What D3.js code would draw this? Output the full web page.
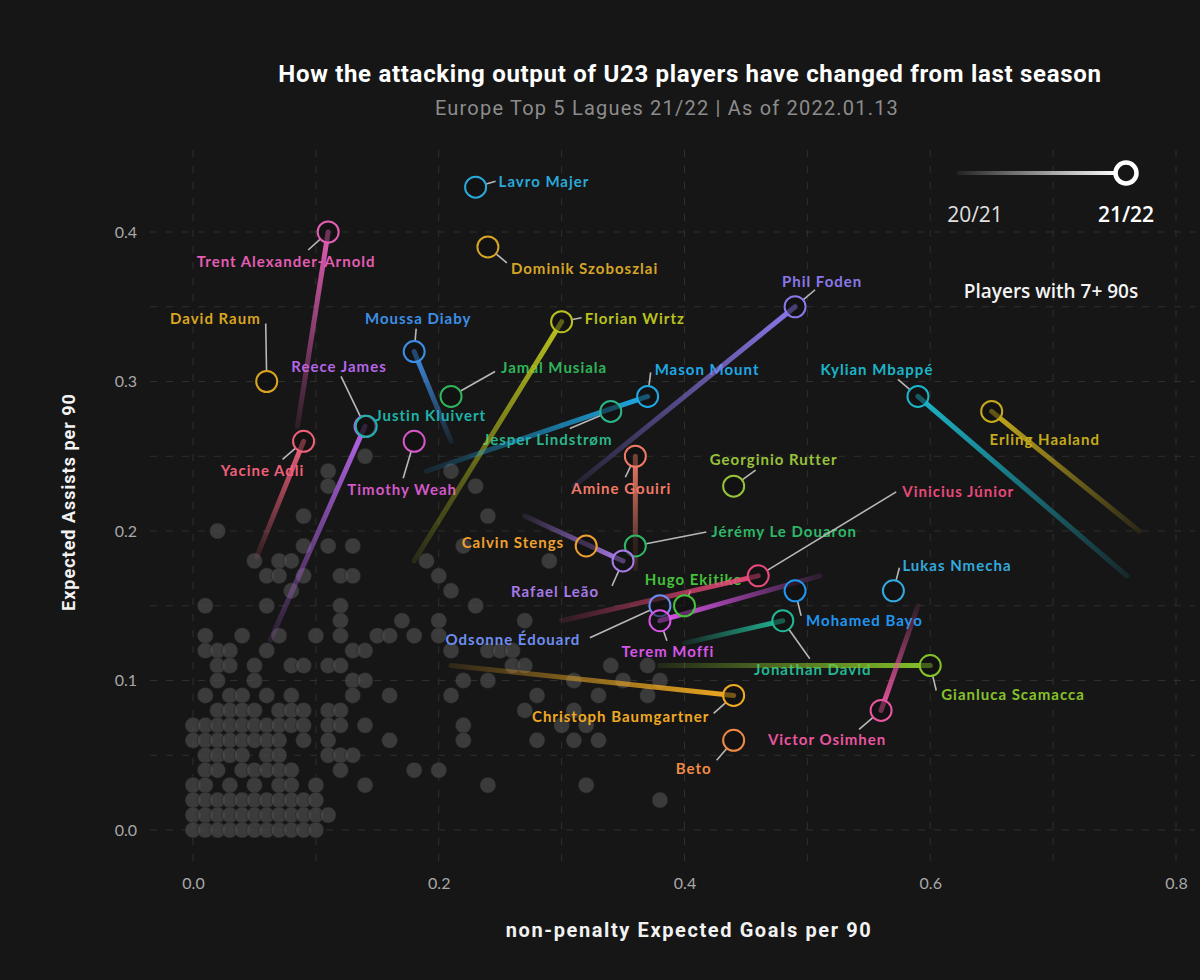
<!DOCTYPE html>
<html>
<head>
<meta charset="utf-8">
<script src="https://cdn.jsdelivr.net/npm/d3@7"></script>
<style>
  html, body { margin: 0; padding: 0; background: #161616; }
  svg { display: block; }
</style>
</head>
<body>
<svg id="chart" width="1200" height="980"></svg>
<script>
// ---------------- DATA ----------------
const chartTitle = "How the attacking output of U23 players have changed from last season";
const chartSubtitle = "Europe Top 5 Lagues 21/22 | As of 2022.01.13";
const xAxisTitle = "non-penalty Expected Goals per 90";
const yAxisTitle = "Expected Assists per 90";
const xTicks = [0.0, 0.2, 0.4, 0.6, 0.8];
const yTicks = [0.0, 0.1, 0.2, 0.3, 0.4];
const seasonLabels = ["20/21", "21/22"];
const filterNote = "Players with 7+ 90s";

const playerNames = [
  "Lavro Majer", "Trent Alexander-Arnold", "David Raum", "Moussa Diaby", "Reece James",
  "Justin Kluivert", "Jamal Musiala", "Florian Wirtz", "Mason Mount", "Jesper Lindstrøm",
  "Phil Foden", "Kylian Mbappé", "Erling Haaland", "Georginio Rutter", "Amine Gouiri",
  "Jérémy Le Douaron", "Calvin Stengs", "Rafael Leão", "Hugo Ekitike", "Vinicius Júnior",
  "Odsonne Édouard", "Terem Moffi", "Mohamed Bayo", "Lukas Nmecha", "Jonathan David",
  "Gianluca Scamacca", "Victor Osimhen", "Christoph Baumgartner", "Beto", "Yacine Adli",
  "Timothy Weah", "Dominik Szoboszlai"
];
// 21/22 season (npxG/90, xA/90)
const xg2122 = [0.23, 0.11, 0.06, 0.18, 0.14, 0.141, 0.21, 0.30, 0.37, 0.34,
                0.49, 0.59, 0.65, 0.44, 0.36, 0.36, 0.32, 0.35, 0.40, 0.46,
                0.38, 0.38, 0.49, 0.57, 0.48, 0.60, 0.56, 0.44, 0.44, 0.09,
                0.18, 0.24];
const xa2122 = [0.43, 0.40, 0.30, 0.32, 0.27, 0.27, 0.29, 0.34, 0.29, 0.28,
                0.35, 0.29, 0.28, 0.23, 0.25, 0.19, 0.19, 0.18, 0.15, 0.17,
                0.15, 0.14, 0.16, 0.16, 0.14, 0.11, 0.08, 0.09, 0.06, 0.26,
                0.26, 0.39];
// 20/21 season (null = no previous-season value shown)
const xg2021 = [null, 0.085, null, 0.21, 0.063, null, null, 0.18, 0.19, null,
                0.31, 0.76, 0.77, null, 0.36, null, null, 0.27, null, 0.30,
                null, 0.51, null, null, 0.40, 0.38, 0.59, 0.21, null, 0.052,
                null, null];
const xa2021 = [null, 0.27, null, 0.26, 0.127, null, null, 0.18, 0.24, null,
                0.23, 0.17, 0.20, null, 0.175, null, null, 0.21, null, 0.14,
                null, 0.17, null, null, 0.125, 0.11, 0.15, 0.11, null, 0.183,
                null, null];

// other U23 players (grey), grouped by xA/90 row
const otherRowXA = [0.25, 0.24, 0.23, 0.21, 0.20, 0.19, 0.18, 0.17, 0.16, 0.15, 0.14, 0.13, 0.12,
                    0.11, 0.10, 0.09, 0.08, 0.07, 0.06, 0.05, 0.04, 0.03, 0.02, 0.01, 0.00];
const otherRowXG = [
  [0.14],
  [0.11, 0.21],
  [0.11, 0.23],
  [0.09, 0.24],
  [0.02],
  [0.09, 0.11, 0.13, 0.22],
  [0.05, 0.07, 0.08, 0.19, 0.29],
  [0.06, 0.07, 0.09, 0.12, 0.13, 0.20],
  [0.08, 0.21],
  [0.01, 0.06, 0.12, 0.23],
  [0.12, 0.17, 0.20, 0.27],
  [0.01, 0.04, 0.07, 0.10, 0.12, 0.15, 0.16, 0.18, 0.20],
  [0.01, 0.02, 0.03, 0.06, 0.13, 0.14, 0.21, 0.24, 0.25, 0.26],
  [0.02, 0.03, 0.05, 0.08, 0.09, 0.11, 0.12, 0.26, 0.27, 0.34, 0.37],
  [0.02, 0.05, 0.13, 0.14, 0.22, 0.24, 0.31, 0.35, 0.38],
  [0.01, 0.03, 0.04, 0.06, 0.08, 0.13, 0.16, 0.21, 0.28, 0.33, 0.37],
  [0.02, 0.03, 0.04, 0.05, 0.07, 0.08, 0.09, 0.11, 0.12, 0.27, 0.31],
  [0.00, 0.01, 0.02, 0.03, 0.04, 0.05, 0.06, 0.07, 0.08, 0.09, 0.11, 0.12, 0.14, 0.22, 0.30, 0.32],
  [0.00, 0.01, 0.02, 0.03, 0.04, 0.05, 0.06, 0.07, 0.09, 0.11, 0.16, 0.22, 0.28, 0.31, 0.33],
  [0.01, 0.02, 0.03, 0.04, 0.06, 0.07, 0.11, 0.12, 0.13],
  [0.01, 0.02, 0.04, 0.05, 0.06, 0.07, 0.08, 0.12, 0.18, 0.20],
  [0.00, 0.01, 0.03, 0.05, 0.07, 0.08, 0.10, 0.14, 0.24, 0.32],
  [0.00, 0.01, 0.02, 0.03, 0.04, 0.05, 0.06, 0.07, 0.08, 0.09, 0.10, 0.38],
  [0.00, 0.01, 0.02, 0.03, 0.04, 0.05, 0.06, 0.07, 0.08, 0.09, 0.10, 0.11],
  [0.00, 0.01, 0.02, 0.03, 0.04, 0.05, 0.06, 0.07, 0.08, 0.09, 0.10]
];

// ---------------- STYLE / LAYOUT ----------------
const playerColors = [
  "#2aa9d9", "#e35db3", "#d9a521", "#3d8fe6", "#b565e8",
  "#1fb3a8", "#2fb55a", "#b9c21d", "#1fa9e6", "#2db58a",
  "#8a78ea", "#1cb5c9", "#c5aa1c", "#97c23a", "#f07a66",
  "#2eb866", "#f0a030", "#a77ae8", "#45c23a", "#e8497a",
  "#6d8ef0", "#d855e8", "#2196f0", "#34a9dd", "#22b895",
  "#86c22a", "#e9559f", "#f0aa22", "#f08a45", "#f0607a",
  "#d458c8", "#d6a527"
];
// label offset from 21/22 circle [dx, dy, anchor], leader end offset [dx, dy] (null = none)
const labelOffsets = [
  [23, -6, "start"], [-42, 29, "middle"], [-6, -64, "end"], [4, -34, "middle"], [-26, -60, "middle"],
  [9, -11, "start"], [50, -29, "start"], [23, -4, "start"], [7, -27, "start"], [-63, 28, "middle"],
  [27, -26, "middle"], [-41, -27, "middle"], [53, 28, "middle"], [40, -27, "middle"], [-14, 32, "middle"],
  [76, -15, "start"], [-22, -4, "end"], [-68, 30, "middle"], [9, -27, "middle"], [144, -85, "start"],
  [-147, 33, "middle"], [8, 30, "middle"], [11, 29, "start"], [9, -26, "start"], [30, 48, "middle"],
  [11, 28, "start"], [-54, 29, "middle"], [-113, 21, "middle"], [-40, 28, "middle"], [-41, 29, "middle"],
  [-12, 48, "middle"], [23, 21, "start"]
];
const leaderEnds = [
  [20, -6], [-20, 18], [-1, -58], [2, -23], [-24, -50],
  null, [44, -25], [20, -4], [3, -24], [-41, 17],
  [20, -17], [-20, -17], null, [22, -16], [-10, 21],
  [71, -14], null, [-11, 25], [6, -15], [138, -84],
  [-70, 32], [7, 20], [6, 25], [6, -23], [27, 38],
  [6, 25], [-22, 19], [-20, 18], [-17, 20], [-21, 18],
  [-11, 37], [19, 16]
];

// ---------------- DRAW ----------------
const svg = d3.select("#chart");
const W = 1200, H = 980;
const panel = { left: 150, right: 1195, top: 150, bottom: 868 };

svg.append("rect").attr("width", W).attr("height", H).attr("fill", "#161616");

const x = d3.scaleLinear().domain([0, 0.8]).range([193, 1176]);
const y = d3.scaleLinear().domain([0, 0.4]).range([830, 232]);

const defs = svg.append("defs");

// grid
const grid = svg.append("g").attr("class", "grid");
grid.selectAll("line.v").data(d3.range(0, 9).map(i => i / 10)).join("line")
  .attr("class", "v")
  .attr("x1", d => x(d)).attr("x2", d => x(d))
  .attr("y1", panel.top).attr("y2", panel.bottom)
  .attr("stroke", "#2f2f2f").attr("stroke-width", 1).attr("stroke-dasharray", "7,9");
grid.selectAll("line.h").data(d3.range(0, 9).map(i => i * 0.05)).join("line")
  .attr("class", "h")
  .attr("x1", panel.left).attr("x2", panel.right)
  .attr("y1", d => y(d)).attr("y2", d => y(d))
  .attr("stroke", "#2f2f2f").attr("stroke-width", 1).attr("stroke-dasharray", "7,9");

// axes (tick labels only)
const xAxis = d3.axisBottom(x).tickValues(xTicks).tickFormat(d3.format(".1f")).tickSize(0).tickPadding(0);
const gx = svg.append("g").attr("transform", `translate(0,${panel.bottom + 5})`).call(xAxis);
gx.select(".domain").remove();
gx.selectAll("text").attr("fill", "#a8a8a8").attr("font-size", 16)
  .attr("font-family", "Lato, 'Open Sans', sans-serif").attr("dy", "1em");

const yAxis = d3.axisLeft(y).tickValues(yTicks).tickFormat(d3.format(".1f")).tickSize(0).tickPadding(0);
const gy = svg.append("g").attr("transform", `translate(137,0)`).call(yAxis);
gy.select(".domain").remove();
gy.selectAll("text").attr("fill", "#a8a8a8").attr("font-size", 16)
  .attr("font-family", "Lato, 'Open Sans', sans-serif");

// axis titles
svg.append("text").text(xAxisTitle)
  .attr("x", 689).attr("y", 937).attr("text-anchor", "middle")
  .attr("fill", "#f2f2f2").attr("font-size", 20).attr("font-weight", 700).attr("letter-spacing", 1.6)
  .attr("font-family", "Roboto, 'Open Sans', sans-serif");
svg.append("text").text(yAxisTitle)
  .attr("transform", "translate(75,502) rotate(-90)").attr("text-anchor", "middle")
  .attr("fill", "#f2f2f2").attr("font-size", 18).attr("font-weight", 700).attr("letter-spacing", 1)
  .attr("font-family", "Roboto, 'Open Sans', sans-serif");

// title
svg.append("text").text(chartTitle)
  .attr("x", 690).attr("y", 82).attr("text-anchor", "middle")
  .attr("fill", "#ffffff").attr("font-size", 24).attr("font-weight", 700).attr("letter-spacing", 0.7)
  .attr("font-family", "Roboto, 'Open Sans', sans-serif");
svg.append("text").text(chartSubtitle)
  .attr("x", 667).attr("y", 115).attr("text-anchor", "middle")
  .attr("fill", "#8c8c8c").attr("font-size", 20).attr("letter-spacing", 1.2)
  .attr("font-family", "Roboto, 'Open Sans', sans-serif");

// other players
const others = [];
otherRowXA.forEach((xa, i) => otherRowXG[i].forEach(xg => others.push({ xg, xa })));
svg.append("g").selectAll("circle").data(others).join("circle")
  .attr("cx", d => x(d.xg)).attr("cy", d => y(d.xa)).attr("r", 8)
  .attr("fill", "#4a4a4a").attr("fill-opacity", 0.72)
  .attr("stroke", "#1c1c1c").attr("stroke-width", 0.8).attr("stroke-opacity", 0.6);

const players = playerNames.map((name, i) => ({
  name, i,
  xg: xg2122[i], xa: xa2122[i],
  pxg: xg2021[i], pxa: xa2021[i],
  color: playerColors[i],
  lab: labelOffsets[i], lead: leaderEnds[i]
}));

// labels
svg.append("g").selectAll("text").data(players).join("text")
  .text(d => d.name)
  .attr("x", d => x(d.xg) + d.lab[0]).attr("y", d => y(d.xa) + d.lab[1])
  .attr("text-anchor", d => d.lab[2]).attr("dominant-baseline", "central")
  .attr("fill", d => d.color).attr("font-size", 15).attr("font-weight", 700)
  .attr("letter-spacing", 1)
  .attr("font-family", "Lato, 'Open Sans', sans-serif");

// leader lines
svg.append("g").selectAll("line").data(players.filter(d => d.lead)).join("line")
  .each(function (d) {
    const cx = x(d.xg), cy = y(d.xa);
    const ex = cx + d.lead[0], ey = cy + d.lead[1];
    const len = Math.hypot(d.lead[0], d.lead[1]);
    const sx = cx + d.lead[0] / len * 11, sy = cy + d.lead[1] / len * 11;
    d3.select(this).attr("x1", sx).attr("y1", sy).attr("x2", ex).attr("y2", ey);
  })
  .attr("stroke", "#b8b8b8").attr("stroke-width", 1.6);

// change lines (20/21 -> 21/22)
const withPrev = players.filter(d => d.pxg != null);
withPrev.forEach(d => {
  const g = defs.append("linearGradient").attr("id", "grad" + d.i)
    .attr("gradientUnits", "userSpaceOnUse")
    .attr("x1", x(d.pxg)).attr("y1", y(d.pxa)).attr("x2", x(d.xg)).attr("y2", y(d.xa));
  g.append("stop").attr("offset", "0%").attr("stop-color", d.color).attr("stop-opacity", 0.12);
  g.append("stop").attr("offset", "100%").attr("stop-color", d.color).attr("stop-opacity", 1);
});
svg.append("g").selectAll("line").data(withPrev).join("line")
  .attr("x1", d => x(d.pxg)).attr("y1", d => y(d.pxa))
  .attr("x2", d => x(d.xg)).attr("y2", d => y(d.xa))
  .attr("stroke", d => `url(#grad${d.i})`).attr("stroke-width", 5).attr("stroke-linecap", "round");

// 21/22 circles
svg.append("g").selectAll("circle").data(players).join("circle")
  .attr("cx", d => x(d.xg)).attr("cy", d => y(d.xa)).attr("r", 10.5)
  .attr("fill", "#111").attr("fill-opacity", 0.55)
  .attr("stroke", d => d.color).attr("stroke-width", 2);

// legend
const lg = defs.append("linearGradient").attr("id", "legendGrad")
  .attr("x1", "0%").attr("x2", "100%").attr("y1", "0%").attr("y2", "0%");
lg.append("stop").attr("offset", "0%").attr("stop-color", "#ffffff").attr("stop-opacity", 0.05);
lg.append("stop").attr("offset", "100%").attr("stop-color", "#ffffff").attr("stop-opacity", 1);
const legend = svg.append("g");
legend.append("rect").attr("x", 957).attr("y", 171).attr("width", 160).attr("height", 4)
  .attr("fill", "url(#legendGrad)");
legend.append("circle").attr("cx", 1126).attr("cy", 173).attr("r", 10.5)
  .attr("fill", "#161616").attr("stroke", "#ffffff").attr("stroke-width", 4.5);
legend.append("text").text(seasonLabels[0]).attr("x", 975).attr("y", 222)
  .attr("text-anchor", "middle").attr("fill", "#e0e0e0").attr("font-size", 21)
  .attr("font-family", "'Open Sans', sans-serif");
legend.append("text").text(seasonLabels[1]).attr("x", 1126).attr("y", 222)
  .attr("text-anchor", "middle").attr("fill", "#ffffff").attr("font-size", 21).attr("font-weight", 600)
  .attr("font-family", "'Open Sans', sans-serif");
legend.append("text").text(filterNote).attr("x", 1051).attr("y", 298)
  .attr("text-anchor", "middle").attr("fill", "#f4f4f4").attr("font-size", 19).attr("font-weight", 600)
  .attr("font-family", "'Open Sans', sans-serif");
</script>
</body>
</html>
